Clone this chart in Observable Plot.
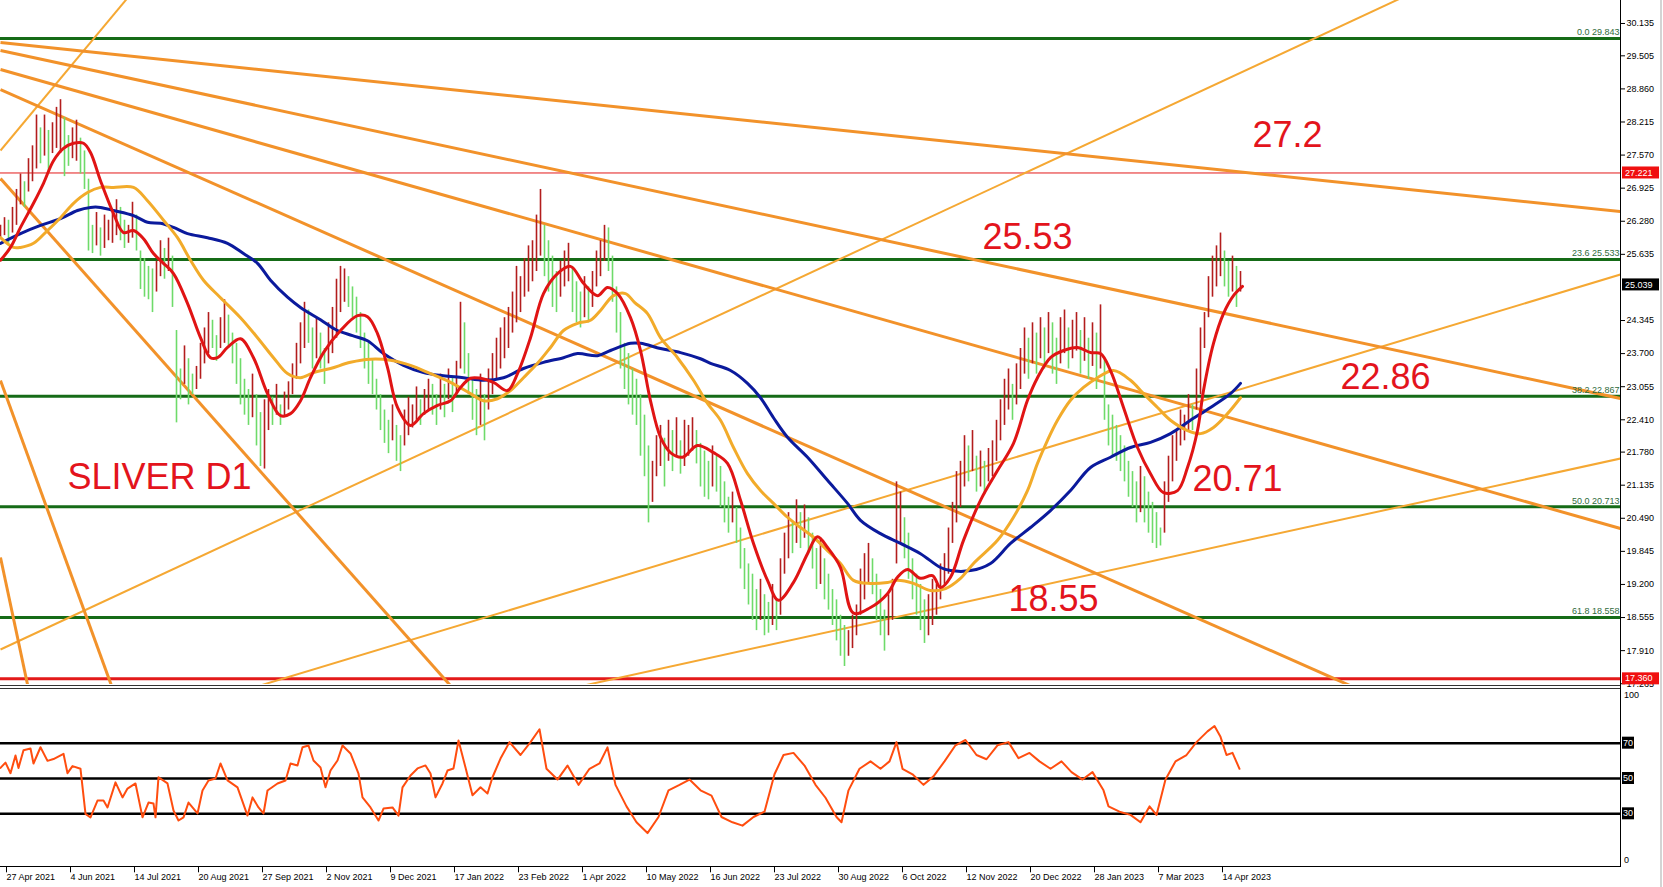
<!DOCTYPE html>
<html><head><meta charset="utf-8">
<script src="https://cdn.jsdelivr.net/npm/d3@7"></script>
<script src="https://cdn.jsdelivr.net/npm/@observablehq/plot@0.6"></script>
<style>
html,body{margin:0;padding:0;background:#fff;}
#wrap{position:relative;width:1663px;height:887px;overflow:hidden;background:#fff;font-family:"Liberation Sans",Arial,sans-serif;}
#main,#rsi{position:absolute;left:0;}
#main{top:0;}
#rsi{top:686px;}
.ln{position:absolute;}
</style></head><body>
<div id="wrap"><div id="main"></div><div id="rsi"></div>
<div class="ln" style="left:0;top:685px;width:1620px;height:1px;background:#333"></div>
<div class="ln" style="left:0;top:688px;width:1620px;height:1px;background:#333"></div>
<div class="ln" style="left:0;top:866px;width:1621px;height:1px;background:#000"></div>
<div class="ln" style="left:1620px;top:0;width:1px;height:867px;background:#000"></div>
<div class="ln" style="left:1660px;top:0;width:2px;height:887px;background:#d4d4d4"></div>
</div>
<script>
// ---------- DATA ----------
// x values are bar indices (bar 0 = 27 Apr 2021); bars sampled every 2 bars starting at index -2
const dateLabels = ["27 Apr 2021","4 Jun 2021","14 Jul 2021","20 Aug 2021","27 Sep 2021","2 Nov 2021","9 Dec 2021","17 Jan 2022","23 Feb 2022","1 Apr 2022","10 May 2022","16 Jun 2022","23 Jul 2022","30 Aug 2022","6 Oct 2022","12 Nov 2022","20 Dec 2022","28 Jan 2023","7 Mar 2023","14 Apr 2023"];
const dateTicks = [0,32,64,96,128,160,192,224,256,288,320,352,384,416,448,480,512,544,576,608];

const barHigh = [
26.20,26.35,26.30,26.55,26.90,27.20,27.05,27.50,27.75,28.35,
28.10,28.35,28.05,28.20,28.50,28.65,28.30,27.95,28.10,28.25,
27.90,27.65,27.10,26.20,26.45,26.15,26.40,26.30,26.45,26.70,
26.55,26.30,26.20,26.65,26.40,25.70,25.55,25.40,25.35,25.50,
25.90,25.75,25.95,25.60,24.15,23.40,23.85,23.60,23.30,23.45,
23.90,24.20,24.50,24.35,24.05,24.40,24.75,24.45,24.10,23.90,
23.60,23.20,23.00,23.30,22.90,22.55,22.80,23.00,22.85,23.10,
22.70,22.95,23.15,23.50,23.90,24.30,24.70,24.55,24.20,24.40,
24.10,23.80,24.30,24.60,25.15,25.40,25.35,25.20,25.00,24.80,
24.50,24.10,23.90,23.60,23.20,22.90,22.60,22.40,22.70,22.30,
22.10,22.60,22.85,22.70,23.05,22.80,23.00,23.20,23.10,22.90,
23.30,23.10,23.40,23.25,23.55,24.70,24.30,23.70,23.20,23.00,
23.30,22.90,23.40,23.70,24.00,24.20,24.40,24.60,24.90,25.40,
25.20,25.55,25.80,25.90,26.40,26.90,26.20,25.90,25.60,25.30,
25.50,25.70,25.85,25.40,25.10,24.90,25.20,25.00,25.30,25.70,
25.90,26.20,26.15,25.60,25.00,24.50,23.90,23.70,23.40,23.20,
22.90,22.50,21.90,21.60,22.10,22.30,22.05,22.40,22.20,22.45,
22.00,22.40,22.30,22.45,22.20,21.95,21.80,21.60,21.90,21.70,
21.50,21.20,20.90,21.00,20.70,20.30,19.90,19.60,19.40,19.10,
19.30,19.00,18.85,19.20,18.90,19.70,20.20,20.60,20.40,20.85,
20.60,20.75,20.50,20.20,19.90,20.10,19.70,19.40,19.10,18.90,
18.60,18.40,18.30,18.60,18.80,19.50,19.80,20.00,19.70,19.40,
19.10,18.70,19.00,19.30,21.20,21.00,20.50,20.20,19.70,19.40,
19.20,18.90,19.00,19.30,19.20,19.60,19.80,20.30,20.80,21.40,
21.60,22.10,21.90,22.20,21.70,21.80,21.60,21.85,22.00,22.40,
22.80,23.20,23.40,23.10,23.50,23.80,24.20,24.00,24.30,24.10,
24.40,24.20,24.50,24.30,24.00,24.40,24.55,24.20,24.35,24.50,
24.15,24.40,24.00,24.30,24.10,24.65,23.60,22.70,22.50,22.30,
22.10,21.90,21.60,21.40,21.20,21.50,21.30,21.00,20.80,20.60,
20.30,21.20,21.70,22.10,22.20,22.60,22.50,22.90,22.70,23.40,
24.20,24.50,25.20,25.60,25.80,26.05,25.70,25.50,25.60,25.40,
25.30];
const barLow = [
25.95,26.00,25.85,26.05,26.20,26.60,26.55,26.85,27.05,27.30,
27.40,27.55,27.25,27.60,27.70,27.60,27.15,27.35,27.50,27.45,
27.20,26.90,25.70,25.65,25.80,25.60,25.75,25.90,25.85,26.00,
25.90,25.75,25.85,25.95,25.70,24.95,24.80,24.75,24.50,24.90,
25.20,25.15,25.30,24.60,22.35,22.80,23.10,22.70,22.90,23.00,
23.20,23.50,23.70,23.80,23.55,23.80,23.90,23.85,23.50,23.10,
22.70,22.50,22.30,22.45,21.90,21.50,21.45,22.20,22.30,22.50,
22.30,22.45,22.60,22.90,23.20,23.50,23.80,23.90,23.40,23.60,
23.40,23.10,23.50,23.70,24.00,24.50,24.70,24.60,24.40,24.10,
23.80,23.40,23.10,22.90,22.60,22.20,21.95,21.75,22.00,21.60,
21.40,21.90,22.10,22.25,22.40,22.30,22.50,22.60,22.50,22.30,
22.60,22.45,22.80,22.55,22.90,23.40,23.30,22.90,22.40,22.10,
22.30,22.00,22.60,22.90,23.20,23.40,23.60,23.80,24.10,24.30,
24.50,24.80,24.90,25.10,25.30,25.60,25.20,24.90,24.60,24.50,
24.80,25.00,25.10,24.50,24.30,24.20,24.40,24.30,24.60,25.00,
25.20,25.50,25.30,24.70,24.10,23.40,23.00,22.70,22.50,22.30,
21.70,21.30,20.40,20.80,21.30,21.50,21.10,21.60,21.40,21.70,
21.35,21.50,21.70,21.80,21.55,21.10,20.90,20.85,21.10,21.00,
20.70,20.40,20.20,20.40,20.00,19.50,19.10,18.80,18.50,18.30,
18.50,18.20,18.25,18.40,18.30,18.60,19.40,19.70,19.80,20.00,
19.90,20.10,19.80,19.50,19.10,19.20,18.90,18.70,18.40,18.10,
17.80,17.60,17.80,17.95,18.20,18.60,18.90,19.20,19.00,18.50,
18.20,17.90,18.20,18.50,19.60,20.00,19.70,19.30,18.90,18.60,
18.30,18.05,18.20,18.40,18.60,18.90,19.20,19.40,20.00,20.40,
20.70,21.10,21.20,21.40,21.00,21.10,20.95,21.20,21.30,21.60,
22.00,22.30,22.60,22.40,22.70,23.00,23.30,23.20,23.50,23.30,
23.60,23.40,23.70,23.30,23.10,23.50,23.70,23.40,23.60,23.75,
23.30,23.55,23.20,23.45,23.00,23.40,22.40,21.90,21.70,21.60,
21.40,21.20,20.90,20.70,20.40,20.60,20.40,20.20,20.00,19.90,
19.95,20.20,20.80,21.20,21.60,21.90,22.00,22.20,22.20,22.60,
22.90,23.80,24.40,24.80,25.00,25.20,25.00,24.80,24.90,24.60,
24.90];

// moving averages: [bar index, price]
const maRed = [[-2,25.52],[3,25.77],[8,26.16],[14.5,26.63],[19.5,27.02],[24.5,27.46],[29.5,27.70],[34.5,27.80],[39.5,27.80],[43,27.62],[48,27.07],[54.5,26.43],[59.5,26.06],[64.5,26.10],[69.5,25.94],[74.5,25.65],[79.5,25.46],[84.5,25.26],[91.5,24.68],[98,24.01],[103,23.62],[106.5,23.62],[111.5,23.82],[118,23.99],[124.5,23.62],[131.5,22.92],[138,22.49],[143,22.53],[148,22.78],[153,23.23],[159.5,23.72],[168,24.15],[176.5,24.44],[181.5,24.42],[186.5,24.09],[191.5,23.43],[196.5,22.65],[203,22.30],[209.5,22.53],[216.5,22.69],[223,22.78],[228,23.04],[233,23.22],[238,23.22],[244.5,23.14],[251.5,22.98],[256.5,23.31],[263,24.01],[269.5,24.87],[276.5,25.26],[283,25.40],[289.5,25.07],[296.5,24.83],[301.5,24.99],[306.5,24.87],[313,24.40],[318,23.76],[323,22.78],[328,22.07],[333,21.77],[339,21.68],[346.5,21.91],[354.5,21.77],[361.5,21.56],[368,20.84],[374.5,20.00],[381.5,19.28],[387,18.89],[394.5,19.24],[401.5,19.80],[406.5,20.13],[411.5,19.92],[418,19.53],[424.5,18.64],[433,18.75],[441.5,19.02],[446.5,19.34],[451.5,19.49],[458,19.32],[464,19.37],[468,19.14],[473,19.34],[479.5,20.06],[488,20.84],[496.5,21.42],[504.5,21.95],[511.5,22.79],[516.5,23.23],[523,23.62],[529.5,23.76],[536.5,23.82],[543,23.72],[548,23.70],[553,23.37],[559.5,22.65],[566.5,21.87],[573,21.36],[579.5,20.99],[586.5,21.03],[591.5,21.48],[596.5,22.20],[599.5,22.98],[604.5,23.90],[609.5,24.48],[614.5,24.83],[619,25.01]];
const maOrange = [[-2,25.96],[4.5,25.77],[8,25.77],[14.5,25.85],[21.5,26.10],[28,26.35],[34.5,26.63],[41.5,26.84],[48,26.94],[54.5,26.94],[64.5,26.94],[71.5,26.68],[79.5,26.30],[86.5,25.96],[93,25.52],[99.5,25.13],[108,24.79],[118,24.40],[126.5,24.01],[134.5,23.62],[141.5,23.31],[148,23.23],[154.5,23.33],[163,23.41],[173,23.53],[183,23.59],[193,23.57],[203,23.47],[213,23.31],[223,23.14],[233,22.92],[239.5,22.78],[246.5,22.82],[253,22.98],[259.5,23.23],[266.5,23.51],[273,23.82],[279.5,24.15],[286.5,24.29],[293,24.35],[298,24.54],[304.5,24.83],[310.5,24.87],[315,24.70],[321.5,24.48],[328,24.01],[336.5,23.62],[344.5,23.18],[351.5,22.73],[358,22.40],[364.5,21.87],[371.5,21.36],[378,21.03],[384.5,20.78],[391.5,20.51],[398,20.31],[404.5,20.12],[411.5,19.86],[418,19.61],[424.5,19.28],[433,19.22],[441.5,19.24],[446.5,19.28],[454.5,19.22],[463,19.08],[470.5,19.12],[478,19.32],[484.5,19.61],[496.5,20.06],[504.5,20.51],[511.5,21.03],[516.5,21.56],[521.5,22.01],[526.5,22.40],[533,22.79],[539.5,23.04],[546.5,23.23],[554.5,23.37],[563,23.18],[569.5,22.92],[576.5,22.65],[583,22.40],[591.5,22.20],[598,22.14],[604.5,22.26],[611.5,22.53],[618,22.84]];
const maBlue = [[-2,25.85],[8,26.04],[18,26.20],[28,26.33],[36.5,26.49],[43,26.55],[48,26.55],[54.5,26.49],[64.5,26.39],[71.5,26.26],[78,26.24],[84.5,26.16],[91.5,26.04],[101.5,25.96],[111.5,25.85],[119.5,25.65],[126.5,25.46],[133,25.13],[141.5,24.80],[148,24.60],[158,24.36],[166,24.16],[174,24.05],[181.5,23.95],[189.5,23.70],[199.5,23.47],[209.5,23.33],[219.5,23.27],[229.5,23.23],[239.5,23.18],[249.5,23.23],[259.5,23.41],[269.5,23.53],[279.5,23.62],[286.5,23.70],[296.5,23.66],[303,23.76],[313,23.90],[318,23.90],[328,23.80],[338,23.72],[348,23.60],[353,23.51],[363,23.37],[371.5,23.12],[378,22.84],[384.5,22.45],[391.5,22.07],[401.5,21.68],[411.5,21.23],[421.5,20.78],[428,20.45],[438,20.19],[448,20.00],[458,19.80],[468,19.53],[473,19.47],[483,19.47],[493,19.61],[503,20.00],[513,20.31],[523,20.64],[533,21.03],[543,21.48],[553,21.68],[563,21.87],[573,21.97],[583,22.14],[593,22.40],[603,22.65],[613,22.92],[618,23.12]];

// RSI: [bar index, value]
const rsiPts = [[-2,56],[0.5,59],[3,53],[5.5,63],[7,56],[9.5,66],[13,67],[14.5,58.5],[18,67.7],[21.5,60],[24.5,61],[29.5,64],[31.5,53],[34,57],[38,55.5],[40.5,30],[43,28],[46.5,37.5],[49.5,37.5],[51.5,33.6],[55.5,47.8],[59,39.3],[61.5,44.3],[65.5,47.2],[69,28],[72,36.4],[74.5,35.8],[75.5,28],[77,50.7],[81.5,47.2],[84.5,31.9],[87,26.2],[89.5,28],[92,36.4],[96.5,30.2],[99,43.2],[102,48.9],[105.5,50],[108,58.5],[111.5,48.9],[116.5,45],[121.5,29],[124,39.3],[127,33.6],[129.5,30.2],[131.5,43.2],[136.5,47.2],[140.5,48.9],[143,58.5],[146.5,57.4],[149,67.7],[152,68.7],[154.5,60.2],[158,56.2],[160.5,45],[163,54.5],[166.5,60.2],[169,68.7],[173,64.2],[177,52.8],[179,39.3],[183,33.6],[187,26.2],[189.5,33],[194,33.6],[197,29],[199,45],[203,51.7],[206.5,55.7],[210.5,57.4],[213,52.8],[215.5,39.3],[219,47.2],[221.5,54.5],[224.5,55.7],[227,71.5],[230.5,56.2],[234,40.5],[238,45],[241.5,41.5],[244,50.7],[248,61.3],[252.5,70.6],[258,63.3],[263,70.6],[267.5,77.9],[271,55.5],[276.5,49.4],[281.5,57.3],[287,46.4],[292.5,55.5],[297.5,58.5],[301.5,67.6],[305.5,46.4],[311,34.2],[316,25.2],[321.5,19.1],[327,28.2],[332,43.3],[337.5,46.4],[342.5,49.4],[348,43.3],[353.5,40.3],[358.5,28.2],[364,25.2],[369,23.3],[374.5,28.2],[380,31.2],[385,52.4],[389.5,63.3],[394.5,64.5],[400,57.3],[405.5,46.4],[410.5,39.1],[416,28.2],[418.5,25.2],[422,43.3],[427.5,55.5],[433,59.7],[438,55.5],[442.5,59.7],[446,70.6],[449,55.5],[454,52.4],[459.5,46.4],[464.5,51.2],[470,59.7],[475.5,68.8],[480.5,71.8],[486,63.3],[491,60.9],[496.5,68.8],[502,70.6],[507,61.5],[512.5,64.5],[517.5,59.7],[523,55.5],[528.5,59.7],[533.5,53.6],[539,49.4],[544,53.6],[549.5,43.3],[552,34.2],[557.5,31.2],[563,29.4],[568,25.2],[572.5,34.2],[576,29.4],[580.5,49.4],[585.5,59.7],[591,63.3],[596,70.6],[601.5,76.7],[605,79.7],[608,73.6],[611,63.3],[614,64.5],[617.5,55.5]];
const rsiLevels = [70, 50, 30];

// horizontal levels
const fibLevels = [29.843, 25.533, 22.867, 20.713, 18.558];
const fibLabels = ["0.0 29.843", "23.6 25.533", "38.2 22.867", "50.0 20.713", "61.8 18.558"];
const redLevels = [27.221, 17.360];
const lastPrice = 25.039;
const priceTicks = [30.135, 29.505, 28.860, 28.215, 27.570, 26.925, 26.280, 25.635, 24.345, 23.700, 23.055, 22.410, 21.780, 21.135, 20.490, 19.845, 19.200, 18.555, 17.910, 17.265];

// trendlines (bar index, price)
const trendThick = [
  {x1:-2, y1:29.765, x2:808, y2:26.470},
  {x1:-2, y1:29.609, x2:808, y2:22.825},
  {x1:-2, y1:29.238, x2:808, y2:20.291},
  {x1:-2, y1:28.848, x2:808, y2:14.900},
  {x1:-2, y1:27.114, x2:808, y2:-8.480},
  {x1:-2, y1:23.176, x2:98, y2:12.455},
  {x1:-2, y1:19.726, x2:48, y2:10.560}
];
const trendThin = [
  {x1:-2, y1:17.932, x2:808, y2:32.620},
  {x1:-2, y1:27.659, x2:98, y2:32.340},
  {x1:-2, y1:15.700, x2:808, y2:25.242},
  {x1:-2, y1:14.739, x2:808, y2:21.655}
];

// annotations
const notes = [
  {t:"27.2", i:624, p:27.95},
  {t:"25.53", i:489, p:25.96},
  {t:"22.86", i:668, p:23.23},
  {t:"20.71", i:594, p:21.25},
  {t:"18.55", i:502, p:18.91},
  {t:"SLIVER D1", i:31.5, p:21.29}
];

// ---------- CHART ----------
const W = 1663, AX = 1620;
const xDomain = [-2, 808];
const FONT = "Liberation Sans, Arial, sans-serif";
const bars = barHigh.map((h, k) => ({i: -2 + 2 * k, hi: h, lo: barLow[k]}));
bars.forEach((b, k) => {
  const m = (b.hi + b.lo) / 2;
  const pm = k ? (bars[k - 1].hi + bars[k - 1].lo) / 2 : m;
  b.up = m >= pm;
});
const pt = {x: d => d[0], y: d => d[1]};

const main = Plot.plot({
  width: W, height: 686,
  marginLeft: 0, marginRight: W - AX, marginTop: 0, marginBottom: 2,
  x: {domain: xDomain, axis: null},
  y: {domain: [17.2497, 30.5833]},
  style: {fontFamily: FONT, fontSize: "9px", background: "transparent", overflow: "visible"},
  marks: [
    Plot.ruleY(fibLevels, {stroke: "#156b17", strokeWidth: 3}),
    Plot.ruleY([redLevels[0]], {stroke: "#e31a1a", strokeWidth: 1}),
    Plot.ruleY([redLevels[1]], {stroke: "#e31a1a", strokeWidth: 3}),
    Plot.link(trendThin, {x1: "x1", y1: "y1", x2: "x2", y2: "y2", stroke: "#f5a833", strokeWidth: 2, clip: true}),
    Plot.link(trendThick, {x1: "x1", y1: "y1", x2: "x2", y2: "y2", stroke: "#f2922a", strokeWidth: 3, clip: true}),
    Plot.ruleX(bars.filter(b => !b.up), {x: "i", y1: "lo", y2: "hi", stroke: "#6edb6a", strokeWidth: 1.6}),
    Plot.ruleX(bars.filter(b => b.up), {x: "i", y1: "lo", y2: "hi", stroke: "#b31d1d", strokeWidth: 1.6}),
    Plot.line(maBlue, {...pt, stroke: "#0b1a9c", strokeWidth: 3, curve: "catmull-rom"}),
    Plot.line(maOrange, {...pt, stroke: "#f2ab2a", strokeWidth: 3, curve: "catmull-rom"}),
    Plot.line(maRed, {...pt, stroke: "#e01414", strokeWidth: 3, curve: "catmull-rom"}),
    Plot.text(fibLevels, {x: () => 808, y: d => d, text: d => fibLabels[fibLevels.indexOf(d)], textAnchor: "end", dx: -1, dy: -6, fill: "#2f6b3c", fontSize: 9}),
    Plot.text(notes, {x: "i", y: "p", text: "t", fill: "#e3141c", fontSize: 36, textAnchor: "start", lineAnchor: "middle", fontFamily: FONT}),
    Plot.axisY(priceTicks, {anchor: "right", tickSize: 4, tickPadding: 2, tickFormat: d => d.toFixed(3), fontSize: 9, label: null})
  ]
});
document.getElementById("main").appendChild(main);

// price boxes on the axis
{
  const ys = main.scale("y");
  const svg = d3.select(main);
  [{v: redLevels[0], bg: "#f01010"}, {v: lastPrice, bg: "#000"}, {v: redLevels[1], bg: "#f01010"}].forEach(b => {
    const y = ys.apply(b.v);
    svg.append("rect").attr("x", AX + 2).attr("y", y - 6).attr("width", 37).attr("height", 12).attr("fill", b.bg);
    svg.append("text").attr("x", AX + 5).attr("y", y).attr("dy", "0.35em").attr("fill", "#fff")
      .attr("text-anchor", "start").attr("font-size", 9).attr("font-family", FONT).text(b.v.toFixed(3));
  });
}

const rsi = Plot.plot({
  width: W, height: 201,
  marginLeft: 0, marginRight: W - AX, marginTop: 3.7, marginBottom: 20.7,
  x: {domain: xDomain},
  y: {domain: [0, 100], axis: null},
  style: {fontFamily: FONT, fontSize: "9px", background: "transparent", overflow: "visible"},
  marks: [
    Plot.ruleY(rsiLevels, {stroke: "#000", strokeWidth: 2.5}),
    Plot.line(rsiPts, {...pt, stroke: "#ff4d0f", strokeWidth: 2}),
    Plot.axisX(dateTicks, {anchor: "bottom", tickSize: 6, tickPadding: 1, tickFormat: d => dateLabels[dateTicks.indexOf(d)], textAnchor: "start", dx: 2, fontSize: 9, label: null})
  ]
});
document.getElementById("rsi").appendChild(rsi);
{
  const ys = rsi.scale("y");
  const svg = d3.select(rsi);
  rsiLevels.forEach(v => {
    const y = ys.apply(v);
    svg.append("rect").attr("x", AX + 2).attr("y", y - 6).attr("width", 12).attr("height", 12).attr("fill", "#000");
    svg.append("text").attr("x", AX + 3).attr("y", y).attr("dy", "0.35em").attr("fill", "#fff")
      .attr("text-anchor", "start").attr("font-size", 9).attr("font-family", FONT).text(v);
  });
  [[100, 5.5], [0, -6]].forEach(([v, off]) => {
    svg.append("text").attr("x", AX + 4).attr("y", ys.apply(v) + off).attr("dy", "0.35em").attr("fill", "#000")
      .attr("text-anchor", "start").attr("font-size", 9).attr("font-family", FONT).text(v);
  });
}
</script>
</body></html>
